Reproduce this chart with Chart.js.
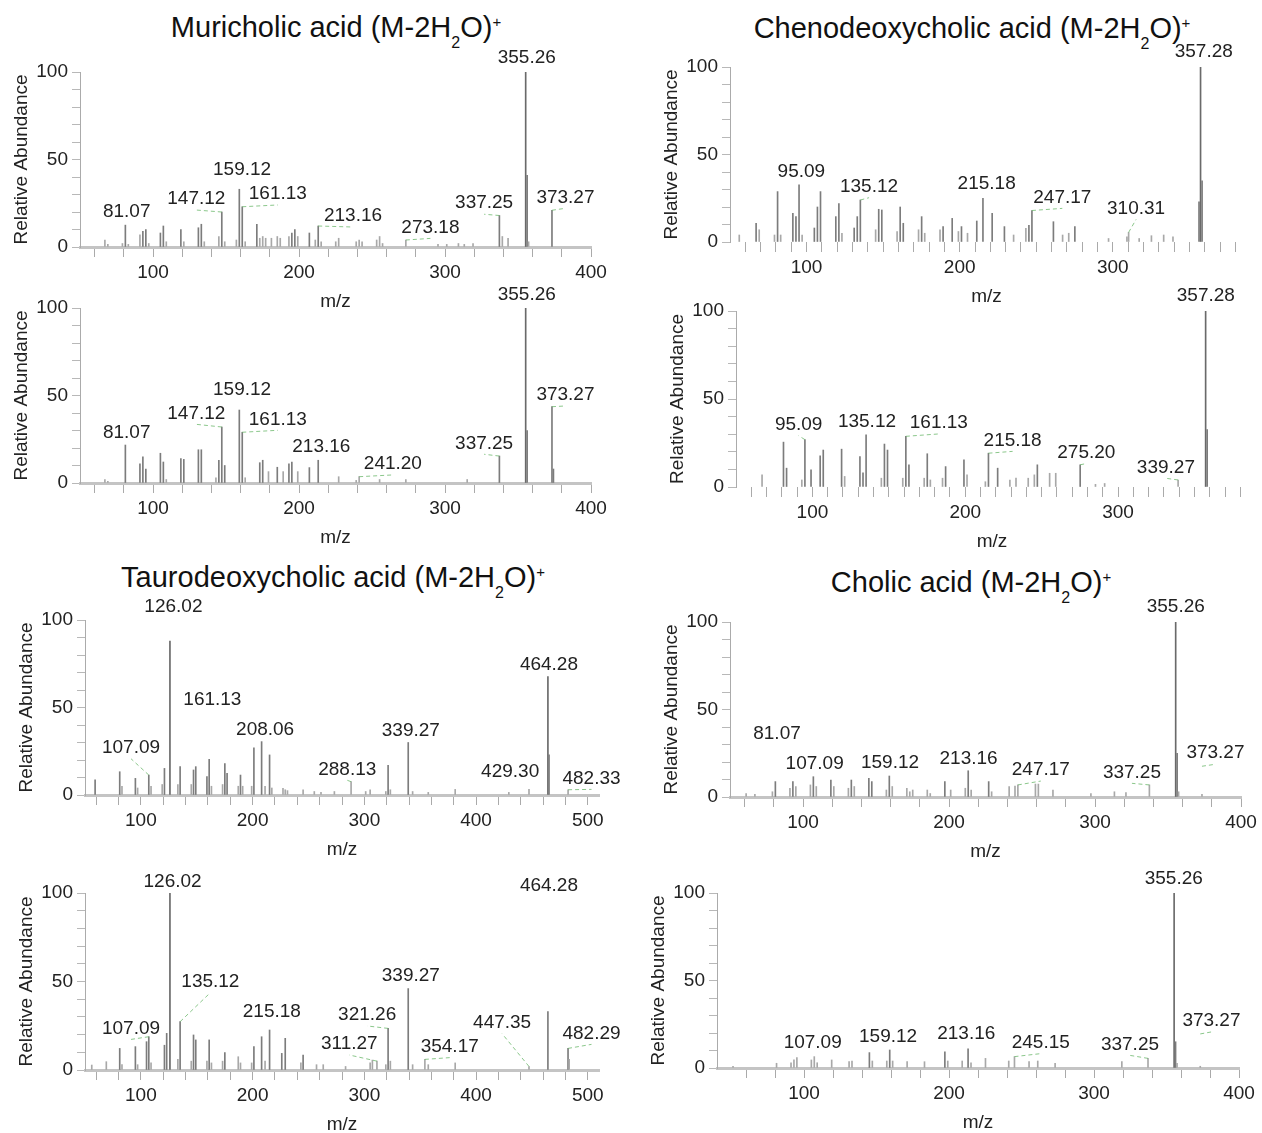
<!DOCTYPE html>
<html>
<head>
<meta charset="utf-8">
<script src="https://cdn.jsdelivr.net/npm/chart.js@4.4.0/dist/chart.umd.min.js"></script>
<style>
  html, body { margin: 0; padding: 0; background: #fff; }
  body { width: 1262px; height: 1133px; position: relative; overflow: hidden;
         font-family: "Liberation Sans", Arial, sans-serif; }
  canvas { position: absolute; }
  .ttl { position: absolute; font-size: 29px; line-height: 29px; color: #111;
         white-space: nowrap; transform: translateX(-50%); }
  .ttl sub { font-size: 16px; vertical-align: -11px; line-height: 0; }
  .ttl sup { font-size: 15px; vertical-align: 10px; line-height: 0; }
</style>
</head>
<body>
<div class="ttl" style="left:336px; top:13px">Muricholic acid (M-2H<sub>2</sub>O)<sup>+</sup></div>
<div class="ttl" style="left:972px; top:14px">Chenodeoxycholic acid (M-2H<sub>2</sub>O)<sup>+</sup></div>
<div class="ttl" style="left:333px; top:563px">Taurodeoxycholic acid (M-2H<sub>2</sub>O)<sup>+</sup></div>
<div class="ttl" style="left:971px; top:568px">Cholic acid (M-2H<sub>2</sub>O)<sup>+</sup></div>
<script>
// spectra: [m/z, relative abundance]
const muriTop = [
  [67.05, 4], [69.07, 1.5], [79.05, 2], [81.07, 12.5], [83.09, 1.5], [91.05, 7], [93.07, 9], [95.09, 10],
  [97.10, 2], [105.07, 8], [107.09, 12], [109.10, 3], [119.09, 10], [121.10, 3], [131.09, 11], [133.10, 13],
  [135.12, 3], [145.10, 6], [147.12, 20], [149.13, 3], [157.10, 4], [159.12, 33], [161.13, 23], [163.15, 3],
  [171.12, 13], [173.13, 5], [175.15, 6], [177.16, 5], [181.10, 5], [185.13, 6], [187.15, 5], [193.10, 6],
  [195.10, 8], [197.15, 10], [199.15, 6], [207.10, 8], [211.15, 4], [213.16, 12], [215.18, 3], [225.16, 3],
  [227.18, 5], [239.18, 3], [241.20, 4], [243.21, 3], [253.20, 4], [255.21, 6], [257.23, 2], [273.18, 4],
  [295.20, 1.5], [301.20, 1.5], [309.20, 2], [313.20, 1.5], [319.20, 2], [337.25, 18], [339.27, 6],
  [343.20, 5], [355.26, 100], [356.26, 41], [357.27, 3], [373.27, 21]
];
const muriBottom = [
  [67.05, 2], [69.07, 1], [81.07, 21.7], [91.05, 11], [93.07, 15], [95.09, 8], [105.07, 17], [107.09, 12],
  [109.10, 2], [119.09, 14], [121.10, 13.5], [131.09, 19], [133.10, 19], [143.10, 3], [145.10, 13],
  [147.12, 32], [149.13, 10], [159.12, 41.7], [161.13, 29], [163.15, 3], [173.13, 11.6], [175.15, 13],
  [179.10, 6.5], [185.13, 9], [189.16, 6.5], [193.10, 11], [195.10, 12], [199.15, 6.5], [207.10, 8.8],
  [213.16, 13], [227.18, 3.6], [239.18, 1.5], [241.20, 3.6], [255.21, 2], [273.18, 2], [315.20, 2],
  [337.25, 15.4], [355.26, 100], [356.26, 30], [373.27, 43.6], [374.27, 8]
];
const chenoTop = [
  [56.05, 4], [67.05, 10.7], [69.07, 7], [79.05, 4], [81.07, 28.8], [83.09, 4], [91.05, 16.4], [93.07, 14.5],
  [95.09, 32.6], [97.10, 4], [105.07, 8], [107.09, 20], [109.10, 28.8], [119.09, 14.5], [121.10, 22],
  [123.10, 5], [131.09, 8], [133.10, 14.5], [135.12, 24], [145.10, 7], [147.12, 18.7], [149.13, 18.3],
  [159.12, 6], [161.13, 20], [163.15, 10.7], [173.13, 7], [175.15, 14.5], [177.16, 5], [187.15, 7],
  [189.16, 8.8], [195.10, 13.5], [199.15, 6], [201.16, 8.8], [205.10, 5], [211.15, 12], [215.18, 25],
  [221.20, 16.4], [229.20, 8.8], [235.20, 4], [243.21, 7.8], [245.20, 9.5], [247.17, 18], [261.20, 11.6],
  [267.20, 4], [271.20, 5], [275.20, 8.8], [297.20, 2], [309.20, 3], [310.31, 5.5], [317.20, 2],
  [325.20, 3.6], [333.20, 4], [339.27, 3], [356.27, 23], [357.28, 100], [358.28, 35]
];
const chenoBottom = [
  [67.05, 6.9], [81.07, 25.5], [83.09, 10.7], [93.07, 4], [95.09, 26.9], [99.10, 9.7], [105.07, 17.7],
  [107.09, 21], [119.09, 21.5], [121.10, 6], [131.09, 17.3], [133.10, 8], [135.12, 29.7], [145.10, 5],
  [147.12, 24.4], [149.13, 21], [159.12, 5], [161.13, 28.8], [163.15, 12.6], [173.13, 5], [175.15, 18.9],
  [177.16, 4], [185.13, 5], [187.15, 11.6], [199.15, 15.4], [201.16, 6.9], [213.16, 3], [215.18, 19.2],
  [221.20, 10.7], [229.20, 4], [233.20, 5], [241.20, 5], [245.20, 6.9], [247.17, 12.6], [255.21, 7.8],
  [259.20, 7.8], [275.20, 12.6], [285.20, 1.5], [291.20, 2], [339.27, 4], [357.28, 100], [358.28, 32.6]
];
const tauroTop = [
  [59.05, 8.6], [81.07, 13.3], [83.09, 5], [95.09, 9.5], [97.10, 4], [107.09, 11.4], [109.10, 5],
  [119.09, 6], [121.10, 15.2], [126.02, 88], [133.10, 6], [135.12, 16.2], [145.10, 6], [147.12, 14.3],
  [149.13, 16.2], [159.12, 10.5], [161.13, 20.4], [163.15, 5], [173.13, 6], [175.15, 18], [177.16, 12.4],
  [187.15, 5], [189.16, 11.4], [191.10, 5], [199.15, 5], [201.16, 27], [208.06, 30.5], [211.15, 5],
  [215.18, 22.9], [217.20, 4], [227.18, 3.8], [229.20, 3], [231.20, 2.5], [245.20, 3], [255.21, 2],
  [261.20, 1.5], [273.18, 2], [288.13, 7.6], [301.20, 2], [305.20, 3], [319.20, 2], [321.26, 17],
  [323.27, 3], [339.27, 30], [343.20, 2], [357.20, 1.5], [381.30, 3.2], [429.30, 1.5], [447.35, 3.2],
  [464.28, 67.6], [465.28, 23], [482.33, 3]
];
const tauroBottom = [
  [56.05, 2.8], [69.07, 4.7], [81.07, 12.2], [83.09, 3], [95.09, 13.2], [97.10, 3], [105.07, 16],
  [107.09, 18.8], [109.10, 4], [121.10, 14], [123.10, 20.7], [126.02, 100], [133.10, 6], [135.12, 27.3],
  [145.10, 5], [147.12, 19.8], [149.13, 17], [159.12, 5], [161.13, 17], [163.15, 4], [173.13, 5],
  [175.15, 9.8], [187.15, 7.5], [189.16, 4], [199.15, 4], [201.16, 13.2], [208.06, 18.8], [211.15, 5],
  [215.18, 22.6], [226.10, 9.4], [229.20, 17.9], [243.20, 4], [245.20, 8.5], [257.20, 3], [263.20, 3],
  [283.20, 2], [305.20, 4], [307.20, 5.6], [311.27, 5], [319.20, 3], [321.26, 23.5], [323.27, 5],
  [339.27, 46], [343.20, 3], [354.17, 6], [357.20, 3], [381.30, 4], [447.35, 2], [464.28, 33],
  [482.29, 12.2], [483.29, 6]
];
const cholicTop = [
  [61.05, 2], [67.05, 1.5], [79.05, 3], [81.07, 8.8], [91.05, 5], [93.07, 8.8], [95.09, 6], [105.07, 6.9],
  [107.09, 11.6], [109.10, 6], [119.09, 9.7], [121.10, 6], [131.09, 5], [133.10, 9.7], [135.12, 6],
  [145.10, 10.7], [147.12, 8.8], [157.10, 4], [159.12, 12], [161.13, 6], [171.12, 5], [173.13, 3],
  [175.15, 4], [185.13, 4], [187.15, 2], [197.15, 8.8], [201.16, 4], [211.15, 5], [213.16, 15],
  [215.18, 4], [227.18, 8.8], [229.20, 3], [241.20, 5.9], [245.20, 6.3], [247.17, 6.9], [259.20, 7.4],
  [261.20, 7.4], [271.20, 4], [297.20, 2], [313.30, 3], [321.20, 2.5], [337.25, 6.9], [355.26, 100],
  [356.26, 25], [357.27, 3], [373.27, 1.5]
];
const cholicBottom = [
  [51.05, 1], [81.07, 2.7], [91.05, 3], [93.07, 4.6], [95.09, 6], [105.07, 4.6], [107.09, 6.5],
  [109.10, 3], [119.09, 4.6], [131.09, 3.6], [133.10, 4], [145.10, 8.8], [147.12, 4], [157.10, 4],
  [159.12, 10.3], [161.13, 4], [171.12, 3.6], [183.10, 3.6], [197.15, 9.3], [199.15, 4], [209.10, 4],
  [213.16, 10.9], [215.18, 3], [225.16, 5.5], [241.20, 4], [245.15, 6.5], [255.21, 3.6], [261.20, 4],
  [273.18, 2.7], [319.20, 3.6], [337.25, 5.5], [355.26, 100], [356.26, 15], [357.27, 2.7], [373.27, 1]
];

// peak tags: [peak m/z, text centre m/z, text centre abundance, leader]
// leader 0 = none, 1 = from the peak top to the text, 2 = short dash under the text
const muriTopTags = [
  [355.26, 356, 108, 0], [373.27, 382.5, 28.4, 1], [337.25, 326.8, 25, 1], [159.12, 161, 44, 0],
  [161.13, 185.5, 30.3, 1], [147.12, 129.7, 27.4, 1], [81.07, 82, 20.2, 0], [213.16, 237, 17.7, 1],
  [273.18, 290, 11.2, 1]
];
const muriBottomTags = [
  [355.26, 356, 107.4, 0], [373.27, 382.5, 50.3, 1], [337.25, 326.8, 22.7, 1], [159.12, 161, 53, 0],
  [147.12, 129.7, 39.8, 1], [161.13, 185.5, 36.4, 1], [81.07, 82, 28.8, 0], [213.16, 215.3, 20.8, 0],
  [241.20, 264.3, 10.9, 1]
];
const chenoTopTags = [
  [357.28, 359.4, 108.8, 0], [95.09, 96.6, 40.2, 0], [135.12, 140.8, 31.6, 1], [215.18, 217.6, 33.1, 0],
  [247.17, 267, 25.5, 1], [310.31, 315.2, 19.2, 1]
];
const chenoBottomTags = [
  [357.28, 357.4, 108.8, 0], [95.09, 91, 35.4, 1], [135.12, 135.7, 36.8, 0], [161.13, 182.7, 36.4, 1],
  [215.18, 231, 26.5, 1], [275.20, 279.2, 19.6, 1], [339.27, 331.3, 11.2, 1]
];
const tauroTopTags = [
  [126.02, 129.1, 107.6, 0], [161.13, 164, 54.7, 0], [107.09, 91.2, 27, 1], [208.06, 211.2, 37.5, 0],
  [339.27, 341.6, 36.8, 0], [288.13, 284.7, 14.7, 1], [429.30, 430.5, 13.3, 0], [464.28, 465.2, 74.7, 0],
  [482.33, 503.3, 9.5, 1]
];
const tauroBottomTags = [
  [126.02, 128.4, 106.4, 0], [135.12, 162.2, 49.9, 1], [107.09, 91.2, 23.5, 1], [215.18, 217.2, 33, 0],
  [339.27, 341.6, 53.1, 0], [321.26, 302.5, 31.1, 1], [311.27, 286.5, 14.7, 1], [354.17, 376.4, 13.2, 1],
  [447.35, 423.3, 26.7, 1], [464.28, 465.2, 104, 0], [482.29, 503.3, 20.7, 1]
];
const cholicTopTags = [
  [355.26, 355.3, 108.8, 0], [81.07, 82.2, 36.4, 0], [107.09, 108, 19.2, 0], [159.12, 159.6, 19.6, 0],
  [213.16, 213.4, 22.1, 0], [247.17, 262.9, 15.4, 1], [337.25, 325.3, 14.1, 1], [373.27, 382.5, 25, 2]
];
const cholicBottomTags = [
  [355.26, 355, 108.4, 0], [107.09, 106, 14.5, 0], [159.12, 158, 17.9, 0], [213.16, 211.9, 19.8, 0],
  [245.15, 263.3, 14.5, 1], [337.25, 324.8, 13.5, 1], [373.27, 381, 26.9, 2]
];

// tick labels
const mzLabels300 = [100, 200, 300];
const mzLabels400 = [100, 200, 300, 400];
const mzLabels500 = [100, 200, 300, 400, 500];
const abundanceLabels = [0, 50, 100];

Chart.defaults.font.family = '"Liberation Sans", Arial, sans-serif';

// plot boxes are [left, right, top, bottom] of each chart area on the page
const panels = [
  { peaks: muriTop,      tags: muriTopTags,      range: [50, 400], labels: mzLabels400, step: 20, box: [80, 591, 72, 247],    base: true },
  { peaks: muriBottom,   tags: muriBottomTags,   range: [50, 400], labels: mzLabels400, step: 20, box: [80, 591, 308, 483],   base: true },
  { peaks: chenoTop,     tags: chenoTopTags,     range: [50, 385], labels: mzLabels300, step: 10, box: [730, 1243, 67, 242],  base: false },
  { peaks: chenoBottom,  tags: chenoBottomTags,  range: [50, 385], labels: mzLabels300, step: 10, box: [736, 1248, 311, 487], base: false },
  { peaks: tauroTop,     tags: tauroTopTags,     range: [50, 510], labels: mzLabels500, step: 20, box: [85, 599, 620, 795],   base: true },
  { peaks: tauroBottom,  tags: tauroBottomTags,  range: [50, 510], labels: mzLabels500, step: 20, box: [85, 599, 893, 1070],  base: true },
  { peaks: cholicTop,    tags: cholicTopTags,    range: [50, 400], labels: mzLabels400, step: 20, box: [730, 1241, 622, 797], base: true },
  { peaks: cholicBottom, tags: cholicBottomTags, range: [40, 400], labels: mzLabels400, step: 20, box: [717, 1239, 893, 1068], base: true }
];

// writes the m/z value over a peak, with a dashed green leader when the text sits off to one side
function peakTags(tags) {
  return {
    id: 'peakTags',
    afterDatasetsDraw(chart) {
      const { ctx, scales: { x, y } } = chart;
      const pts = chart.data.datasets[0].data;
      ctx.save();
      ctx.font = '19px "Liberation Sans", Arial, sans-serif';
      ctx.textAlign = 'center';
      ctx.textBaseline = 'middle';
      tags.forEach(([mz, tx, ty, leader]) => {
        const pk = pts.find(d => d.x === mz);
        const lx = x.getPixelForValue(tx);
        const ly = y.getPixelForValue(ty);
        if (leader && pk) {
          const px = x.getPixelForValue(mz);
          ctx.save();
          ctx.strokeStyle = 'rgba(110, 185, 110, 0.8)';
          ctx.lineWidth = 1;
          ctx.setLineDash([4, 3]);
          ctx.beginPath();
          if (leader === 2) {
            ctx.moveTo(px, ly + 13);
          } else {
            ctx.moveTo(px, y.getPixelForValue(pk.y));
          }
          ctx.lineTo(lx, ly + 11);
          ctx.stroke();
          ctx.restore();
        }
        ctx.fillStyle = '#222';
        ctx.fillText(mz.toFixed(2), lx, ly);
      });
      ctx.restore();
    }
  };
}

const stickColor = c => {
  const v = c.raw ? c.raw.y : 0;
  if (v >= 50) return '#6a6a6a';
  if (v >= 8) return '#7c7c7c';
  return '#a8a8a8';
};

const padTop = 45, padRight = 30, axisW = 80, axisH = 70;

panels.forEach(p => {
  const [L, R, T, B] = p.box;
  const cv = document.createElement('canvas');
  cv.width = R - L + axisW + padRight;
  cv.height = B - T + padTop + axisH;
  cv.style.left = (L - axisW) + 'px';
  cv.style.top = (T - padTop) + 'px';
  document.body.appendChild(cv);

  new Chart(cv, {
    type: 'bar',
    data: {
      datasets: [{
        data: p.peaks.map(([mz, ab]) => ({ x: mz, y: ab })),
        backgroundColor: stickColor,
        barThickness: 1,
        borderWidth: 0
      }]
    },
    options: {
      responsive: false,
      animation: false,
      devicePixelRatio: 1,
      layout: { padding: { left: 0, top: padTop, right: padRight, bottom: 0 } },
      plugins: { legend: { display: false }, tooltip: { enabled: false } },
      scales: {
        x: {
          type: 'linear',
          offset: false,
          min: p.range[0],
          max: p.range[1],
          afterFit: s => { s.height = axisH; },
          afterBuildTicks: s => {
            const t = [];
            for (let v = Math.ceil((p.range[0] + 1) / p.step) * p.step; v <= p.range[1]; v += p.step) t.push({ value: v });
            s.ticks = t;
          },
          ticks: {
            autoSkip: false, maxRotation: 0, padding: 4, color: '#222', font: { size: 19 },
            callback: v => (p.labels.includes(v) ? String(v) : '')
          },
          grid: { offset: false, drawOnChartArea: false, tickLength: 10, tickColor: '#aaa' },
          border: { display: p.base, color: '#c4c4c4', width: 3 },
          title: { display: true, text: 'm/z', color: '#222', font: { size: 19 }, padding: { top: 0, bottom: 4 } }
        },
        y: {
          min: 0,
          max: 100,
          afterFit: s => { s.width = axisW; },
          afterBuildTicks: s => {
            const t = [];
            for (let v = 0; v <= 100; v += 10) t.push({ value: v });
            s.ticks = t;
          },
          ticks: {
            autoSkip: false, padding: 4, color: '#222', font: { size: 19 },
            callback: v => (abundanceLabels.includes(v) ? String(v) : '')
          },
          grid: { drawOnChartArea: false, tickLength: 8, tickColor: '#b8b8b8' },
          border: { color: '#ababab', width: 1 },
          title: { display: true, text: 'Relative Abundance', color: '#222', font: { size: 19 }, padding: { top: 10, bottom: 0 } }
        }
      }
    },
    plugins: [peakTags(p.tags)]
  });
});
</script>
</body>
</html>
